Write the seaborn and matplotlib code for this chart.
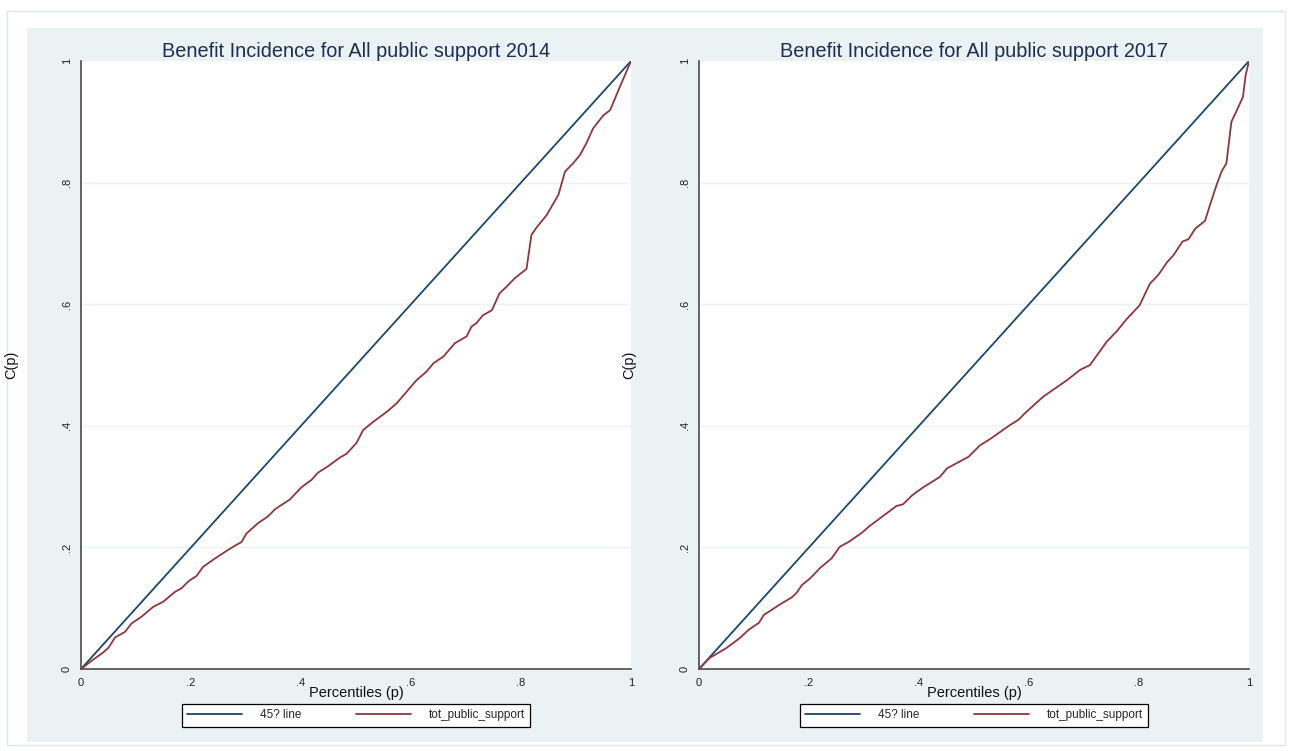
import numpy as np
import pandas as pd
import matplotlib
matplotlib.use("Agg")
import matplotlib.pyplot as plt
from matplotlib.patches import Rectangle
import seaborn as sns

# Concentration curves of total public support, by year
p_2014 = [0, 0.02, 0.04, 0.05, 0.062, 0.08, 0.092, 0.11, 0.131, 0.15, 0.171, 0.183,
          0.195, 0.21, 0.222, 0.244, 0.271, 0.292, 0.301, 0.322, 0.34, 0.353, 0.38,
          0.401, 0.419, 0.431, 0.45, 0.471, 0.483, 0.501, 0.513, 0.532, 0.556, 0.574,
          0.592, 0.61, 0.628, 0.641, 0.659, 0.68, 0.701, 0.71, 0.719, 0.731, 0.747,
          0.761, 0.774, 0.789, 0.81, 0.819, 0.829, 0.847, 0.868, 0.88, 0.895, 0.907,
          0.919, 0.931, 0.95, 0.962, 0.98, 1.0]
c_2014 = [0, 0.014, 0.027, 0.035, 0.052, 0.061, 0.075, 0.086, 0.102, 0.111, 0.127, 0.133,
          0.144, 0.153, 0.168, 0.182, 0.198, 0.209, 0.223, 0.240, 0.251, 0.263, 0.279,
          0.299, 0.311, 0.323, 0.334, 0.348, 0.354, 0.372, 0.393, 0.407, 0.423, 0.437,
          0.456, 0.475, 0.489, 0.503, 0.514, 0.536, 0.547, 0.563, 0.569, 0.582, 0.590,
          0.618, 0.629, 0.643, 0.658, 0.714, 0.727, 0.747, 0.780, 0.818, 0.832, 0.845,
          0.865, 0.889, 0.911, 0.919, 0.958, 1.0]

p_2017 = [0, 0.019, 0.049, 0.073, 0.091, 0.109, 0.118, 0.13, 0.145, 0.169, 0.178, 0.187,
          0.202, 0.22, 0.241, 0.256, 0.272, 0.296, 0.31, 0.341, 0.359, 0.371, 0.388,
          0.408, 0.438, 0.451, 0.49, 0.511, 0.529, 0.565, 0.581, 0.593, 0.626, 0.669,
          0.693, 0.711, 0.741, 0.759, 0.778, 0.801, 0.82, 0.835, 0.851, 0.863, 0.879,
          0.89, 0.902, 0.92, 0.929, 0.941, 0.95, 0.959, 0.968, 0.977, 0.989, 0.994, 1.0]
c_2017 = [0, 0.018, 0.034, 0.050, 0.065, 0.076, 0.089, 0.096, 0.105, 0.118, 0.126, 0.138,
          0.149, 0.166, 0.182, 0.201, 0.209, 0.224, 0.235, 0.256, 0.268, 0.271, 0.286,
          0.299, 0.316, 0.330, 0.349, 0.368, 0.378, 0.401, 0.410, 0.421, 0.448, 0.475,
          0.492, 0.500, 0.538, 0.555, 0.576, 0.598, 0.634, 0.648, 0.669, 0.681, 0.703,
          0.707, 0.724, 0.737, 0.763, 0.796, 0.818, 0.832, 0.900, 0.917, 0.941, 0.977, 1.0]

# Line of perfect equality
p_equal = [0, 1]
c_equal = [0, 1]

series_names = ["45? line", "tot_public_support"]
years = ["2014", "2017"]
tick_values = [0, 0.2, 0.4, 0.6, 0.8, 1]
tick_labels = ["0", ".2", ".4", ".6", ".8", "1"]

NAVY = "#1a476f"
MAROON = "#90353b"
PANEL_BG = "#eaf2f3"
AXIS_GRAY = "#4a4a4a"
TITLE_COLOR = "#1e2d52"

sns.set_style("white")
plt.rcParams["font.family"] = ["Liberation Sans", "DejaVu Sans"]

fig = plt.figure(figsize=(12.94, 7.51), dpi=100)
W, H = 1294, 751
AX_W, AX_H = 550, 608

# outer frame and the two panel backgrounds
fig.patches.append(Rectangle((7 / W, 1 - 745 / H), 1278 / W, 734 / H,
                             transform=fig.transFigure, facecolor="white",
                             edgecolor="#dde6e9", lw=1.0, zorder=-3))
for x0 in (27, 645):
    fig.patches.append(Rectangle((x0 / W, 1 - 742 / H), 618 / W, 714 / H,
                                 transform=fig.transFigure, facecolor=PANEL_BG,
                                 edgecolor="none", zorder=-2))

curves = {"2014": (p_2014, c_2014), "2017": (p_2017, c_2017)}

for i, year in enumerate(years):
    left = (81 if i == 0 else 699) / W
    ax = fig.add_axes([left, 1 - 669 / H, AX_W / W, AX_H / H])
    ax.set_facecolor("white")

    p_vals, c_vals = curves[year]
    df = pd.concat([
        pd.DataFrame({"p": p_equal, "C": c_equal, "series": series_names[0]}),
        pd.DataFrame({"p": p_vals, "C": c_vals, "series": series_names[1]}),
    ], ignore_index=True)

    sns.lineplot(data=df, x="p", y="C", hue="series", estimator=None, sort=False,
                 palette={series_names[0]: NAVY, series_names[1]: MAROON},
                 linewidth=1.3, ax=ax, legend=True, zorder=3)

    ax.set_xlim(0, 1)
    ax.set_ylim(0, 1)
    ax.set_xticks(tick_values)
    ax.set_xticklabels(tick_labels)
    ax.set_yticks(tick_values)
    ax.set_yticklabels(tick_labels)
    ax.tick_params(axis="both", direction="out", length=5, width=1.0,
                   color=AXIS_GRAY, labelsize=8, labelcolor="#222222", pad=1.5)
    ax.tick_params(axis="y", labelrotation=90, pad=1.5)
    for lab in ax.get_yticklabels():
        lab.set_va("center")

    for y in tick_values[1:-1]:
        ax.axhline(y, color=PANEL_BG, lw=1.0, zorder=1)

    for side in ("top", "right"):
        ax.spines[side].set_visible(False)
    for side in ("left", "bottom"):
        ax.spines[side].set_color(AXIS_GRAY)
        ax.spines[side].set_linewidth(1.2)

    ax.set_xlabel("Percentiles (p)", fontsize=10.5, color="#111111")
    ax.xaxis.set_label_coords(0.5, -17.5 / AX_H)
    ax.set_ylabel("C(p)", fontsize=10.5, color="#111111")
    ax.yaxis.set_label_coords(-63 / AX_W, 0.5)
    ax.set_title(f"Benefit Incidence for All public support {year}",
                 fontsize=14.3, color=TITLE_COLOR, pad=3)

    handles, labels = ax.get_legend_handles_labels()
    leg = ax.legend(handles, labels, loc="upper center",
                    bbox_to_anchor=(0.5, -35 / AX_H), ncol=2, fontsize=8.5,
                    frameon=True, fancybox=False, shadow=False,
                    handlelength=4.7, handletextpad=1.5, columnspacing=4.6,
                    borderpad=0.45, borderaxespad=0)
    leg.get_frame().set_edgecolor("black")
    leg.get_frame().set_linewidth(0.9)
    leg.get_frame().set_facecolor("white")
    leg.get_frame().set_alpha(1)

fig.savefig("out.png", dpi=100, facecolor="white")
